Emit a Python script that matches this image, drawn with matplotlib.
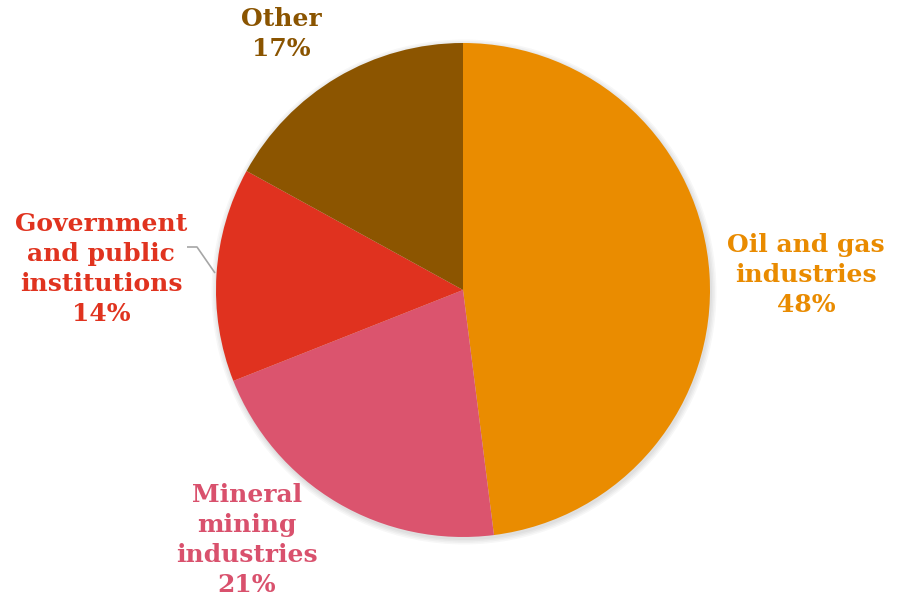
import matplotlib
matplotlib.use("Agg")
import matplotlib.pyplot as plt
from matplotlib.patches import Circle

categories = ["Oil and gas\nindustries", "Mineral\nmining\nindustries",
              "Government\nand public\ninstitutions", "Other"]
shares = [48, 21, 14, 17]
colors = ["#EA8C00", "#DB546E", "#E0321F", "#8C5500"]
label_colors = ["#E98B00", "#D9516D", "#E0331F", "#8A5400"]

W, H = 907, 601
fig = plt.figure(figsize=(W / 100, H / 100), dpi=100)
ax = fig.add_axes([0, 0, 1, 1])

cx, cy, r = 463, H - 290, 247

# soft shadow around the pie
for i in range(4):
    ax.add_patch(Circle((cx + 1, cy - 2), r + 1 + i * 1.5, color="black",
                        alpha=0.03, lw=0, zorder=0))

ax.pie(shares, colors=colors, startangle=90, counterclock=False,
       center=(cx, cy), radius=r, frame=True,
       wedgeprops=dict(linewidth=0))
ax.set_xlim(0, W)
ax.set_ylim(0, H)
ax.set_aspect("equal")
ax.axis("off")

font = dict(family="DejaVu Serif", weight="bold", fontsize=18,
            ha="center", va="center", linespacing=1.3)

label_pos = [(806, H - 275), (247, H - 540), (101, H - 269), (281, H - 34)]
for name, val, col, (x, y) in zip(categories, shares, label_colors, label_pos):
    ax.text(x, y, f"{name}\n{val}%", color=col, **font)

# leader line for the government slice
ax.plot([187, 197, 215], [H - 247, H - 247, H - 273], color="#A6A6A6",
        lw=1.2, solid_capstyle="butt", zorder=5)

fig.savefig("out.png", dpi=100)
